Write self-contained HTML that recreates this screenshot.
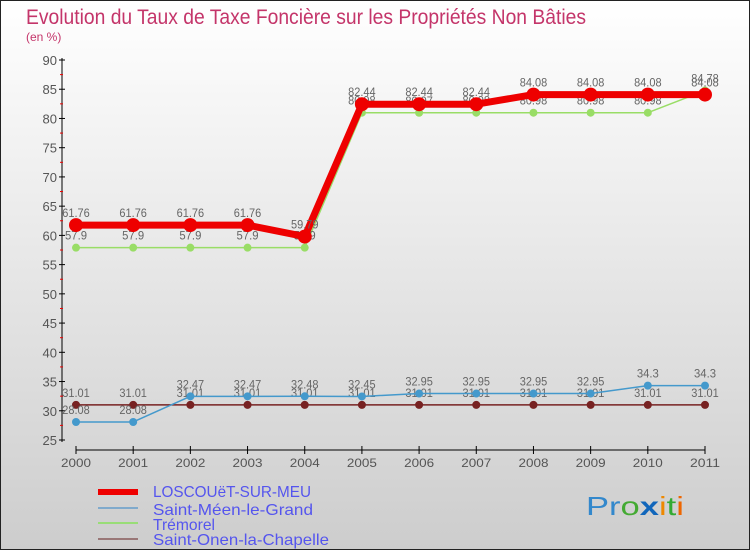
<!DOCTYPE html>
<html><head><meta charset="utf-8"><style>
body{margin:0}
svg{display:block;font-family:"Liberation Sans",sans-serif}
</style></head><body>
<svg id="c" width="750" height="550" xmlns="http://www.w3.org/2000/svg">
<defs><linearGradient id="bg" x1="0" y1="0" x2="0" y2="1"><stop offset="0" stop-color="#ffffff"/><stop offset="1" stop-color="#cdcdcd"/></linearGradient></defs>
<rect x="0.5" y="0.5" width="749" height="549" fill="url(#bg)" stroke="#222"/>
<text x="26" y="24" font-size="21" fill="#c4356a" textLength="560" lengthAdjust="spacingAndGlyphs">Evolution du Taux de Taxe Foncière sur les Propriétés Non Bâties</text>
<text x="26" y="41" font-size="12" fill="#c4356a">(en %)</text>
<g id="axes"></g>
<g id="series"></g>
<g id="legend" font-size="16" fill="#5555ee">
<rect x="98" y="489" width="40" height="6" fill="#ee0000"/>
<text x="153" y="497" textLength="158" lengthAdjust="spacingAndGlyphs">LOSCOUëT-SUR-MEU</text>
<rect x="98" y="507" width="40" height="2" fill="#80aacc"/>
<text x="153" y="515" textLength="160" lengthAdjust="spacingAndGlyphs">Saint-Méen-le-Grand</text>
<rect x="98" y="522" width="40" height="2" fill="#99dd77"/>
<text x="153" y="530" textLength="62" lengthAdjust="spacingAndGlyphs">Trémorel</text>
<rect x="98" y="538" width="40" height="2" fill="#997777"/>
<text x="153" y="545" textLength="176" lengthAdjust="spacingAndGlyphs">Saint-Onen-la-Chapelle</text>
</g>
<text x="586" y="515" font-size="26" textLength="98" lengthAdjust="spacingAndGlyphs"><tspan fill="#3388cc">Pr</tspan><tspan fill="#44aa33">o</tspan><tspan fill="#1166bb" font-weight="bold">x</tspan><tspan fill="#ee8800">i</tspan><tspan fill="#33aa33">t</tspan><tspan fill="#ee6600">i</tspan></text>
</svg>
<script>
const years=[2000,2001,2002,2003,2004,2005,2006,2007,2008,2009,2010,2011];
const loscouet=[61.76,61.76,61.76,61.76,59.79,82.44,82.44,82.44,84.08,84.08,84.08,84.08];
const saintMeen=[28.08,28.08,32.47,32.47,32.48,32.45,32.95,32.95,32.95,32.95,34.3,34.3];
const tremorel=[57.9,57.9,57.9,57.9,57.9,80.98,80.97,80.98,80.98,80.98,80.98,84.78];
const saintOnen=[31.01,31.01,31.01,31.01,31.01,31.01,31.01,31.01,31.01,31.01,31.01,31.01];
const yTicks=[25,30,35,40,45,50,55,60,65,70,75,80,85,90];
const NS="http://www.w3.org/2000/svg";
const X=i=>76+i*(705-76)/(years.length-1);
const Y=v=>60+(90-v)*(440-60)/(90-25);
function mk(t,a,p){const e=document.createElementNS(NS,t);for(const k in a)e.setAttribute(k,a[k]);p.appendChild(e);return e;}
const ax=document.getElementById('axes');
let l=mk('line',{x1:62,y1:58,x2:62,y2:442,stroke:'#000'},ax);


l=mk('line',{x1:76,y1:450,x2:705,y2:450,stroke:'#000'},ax);


yTicks.forEach(v=>{
 mk('line',{x1:59,x2:65,y1:Y(v),y2:Y(v),stroke:'#000'},ax);
 if(v<90)mk('line',{x1:60,x2:63,y1:Y(v+2.5),y2:Y(v+2.5),stroke:'#e00'},ax);
 const t=mk('text',{x:57,y:Y(v)+5,'text-anchor':'end','font-size':13,fill:'#555'},ax);
 t.textContent=v;
 
 
});
years.forEach((y,i)=>{
 mk('line',{x1:X(i),x2:X(i),y1:446,y2:454,stroke:'#000'},ax);
 const t=mk('text',{x:X(i),y:467,'text-anchor':'middle','font-size':12,fill:'#555',textLength:30,lengthAdjust:'spacingAndGlyphs'},ax);
 t.textContent=y;
 
 
});
const sg=document.getElementById('series');
function series(vals,color,w,r,name){
 const g=mk('g',{},sg);
 
 
 const pl=mk('polyline',{points:vals.map((v,i)=>X(i)+','+Y(v)).join(' '),fill:'none',stroke:color,'stroke-width':w,'stroke-linejoin':'round'},g);
 
 
 vals.forEach((v,i)=>{
  const c=mk('circle',{cx:X(i),cy:Y(v),r:r,fill:color},g);
  
  
  const t=mk('text',{x:X(i),y:Y(v)-8,'text-anchor':'middle','font-size':12,fill:'#666',textLength:String(v).length*5.5,lengthAdjust:'spacingAndGlyphs'},g);
  t.textContent=String(v);
  
  
 });
}
series(saintOnen,'#772222',1.5,4,'saint-onen');
series(saintMeen,'#4499cc',1.5,4,'saint-meen');
series(tremorel,'#99dd66',1.5,4,'tremorel');
series(loscouet,'#ee0000',7,7,'loscouet');
</script>
</body></html>
